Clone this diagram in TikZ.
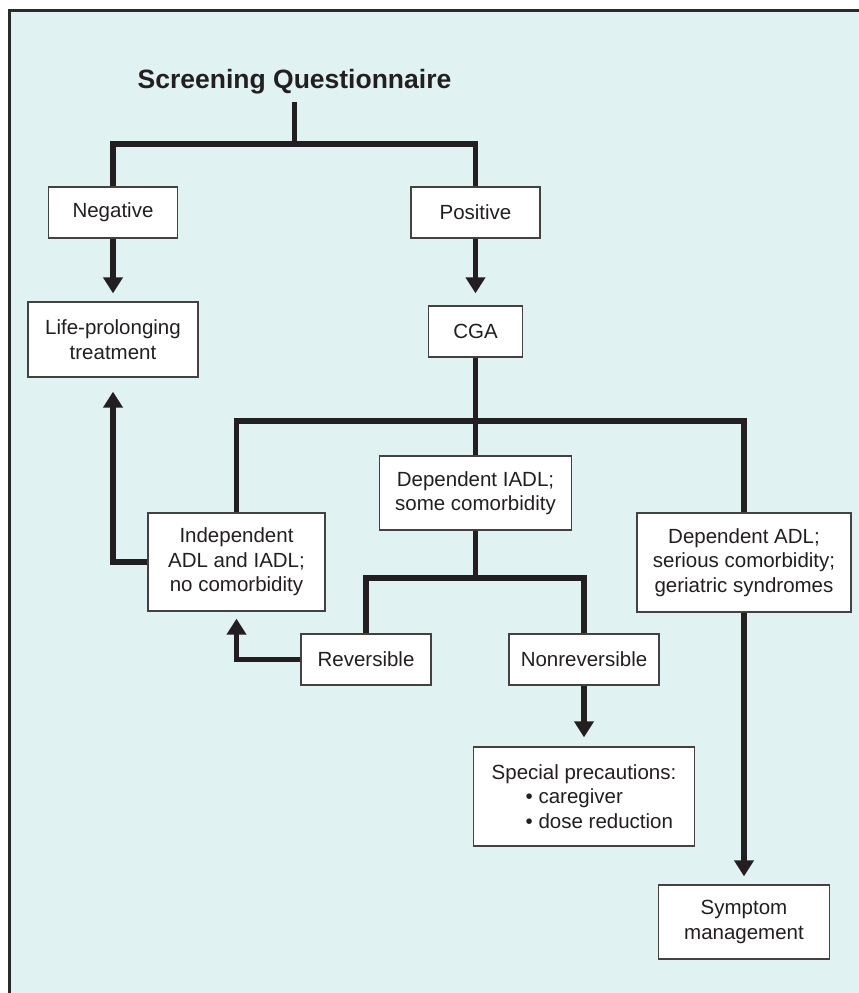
\documentclass[tikz,border=0pt]{standalone}
\usepackage{fontspec}
\setmainfont{Liberation Sans}
\usetikzlibrary{arrows.meta}
\definecolor{panel}{HTML}{E0F2F2}
\definecolor{ink}{HTML}{231F20}
\definecolor{frame}{HTML}{2B2B2B}
\begin{document}
\begin{tikzpicture}[x=1pt,y=-1pt,
  box/.style={draw=ink!85, line width=1.3pt, fill=white, text=ink, align=center,
    inner sep=0pt, font=\fontsize{20.5}{24.5}\selectfont},
  conn/.style={draw=ink, line width=5.2pt, line join=miter},
  arr/.style={conn, -{Triangle[width=19pt,length=16pt]}},
  ttl/.style={text=ink, inner sep=0pt, font=\bfseries\fontsize{26.5}{30}\selectfont}]
\useasboundingbox (0,0) rectangle (859,993);
% panel
\fill[panel] (9.5,10) rectangle (859,993);
\draw[frame, line width=3pt] (9.5,993) -- (9.5,10) -- (859,10);

% nodes
\node[ttl] (title) at (294.5,82) {Screening Questionnaire};
\node[box, minimum width=129pt, minimum height=51pt] (neg) at (113,212.5) {Negative};
\node[box, minimum width=129pt, minimum height=51pt] (pos) at (475.5,212.5) {Positive};
\node[box, minimum width=170pt, minimum height=75pt] (life) at (113,339.5) {Life-prolonging\\treatment};
\node[box, minimum width=94pt, minimum height=51pt] (cga) at (475.5,331.5) {CGA};
\node[box, minimum width=192pt, minimum height=74pt] (depi) at (475.5,493) {Dependent IADL;\\some comorbidity};
\node[box, minimum width=177pt, minimum height=98pt] (indep) at (236.5,562) {Independent\\ADL and IADL;\\no comorbidity};
\node[box, minimum width=214pt, minimum height=99pt] (depa) at (744,562.5) {Dependent ADL;\\serious comorbidity;\\geriatric syndromes};
\node[box, minimum width=130pt, minimum height=51pt] (rev) at (366,659.5) {Reversible};
\node[box, minimum width=150pt, minimum height=51pt] (nonrev) at (584,659.5) {Nonreversible};
\node[box, minimum width=221pt, minimum height=99pt, align=left] (spec) at (584,796.5)
  {Special precautions:\\\hspace*{34pt}• caregiver\\\hspace*{34pt}• dose reduction};
\node[box, minimum width=171pt, minimum height=74pt] (symp) at (744,922) {Symptom\\management};

% junctions
\coordinate (j1) at (294.5,144);
\coordinate (j2) at (475.5,421);
\coordinate (j3) at (475.5,578);

% tree lines
\draw[conn, line width=4.5pt] ([yshift=-7pt]title.south) -- (j1);
\draw[conn] (neg.north) |- (j1) -| (pos.north);
\draw[conn] (cga.south) -- (depi.north);
\draw[conn] (indep.north) |- (j2) -| (depa.north);
\draw[conn] (depi.south) -- (j3);
\draw[conn] (rev.north) |- (j3) -| (nonrev.north);

% arrows
\draw[arr, shorten >=8pt] (neg.south) -- (life.north);
\draw[arr, shorten >=12pt] (pos.south) -- (cga.north);
\draw[arr, shorten >=14pt] (indep.west) -| (life.south);
\draw[arr, shorten >=7pt] (rev.west) -| (indep.south);
\draw[arr, shorten >=9pt] (nonrev.south) -- (spec.north);
\draw[arr, shorten >=8pt] (depa.south) -- (symp.north);
\end{tikzpicture}
\end{document}
